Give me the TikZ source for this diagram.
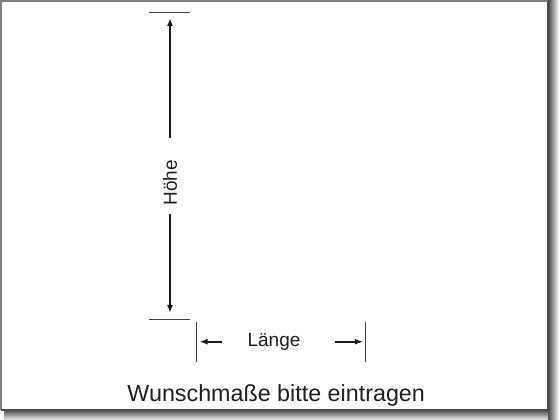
\documentclass[tikz,border=0pt]{standalone}
\usepackage{fontspec}
\setmainfont{Liberation Sans}
\usetikzlibrary{arrows.meta}
\begin{document}
\begin{tikzpicture}[x=1pt,y=1pt,
  tick/.style={draw=black!75, line width=0.9pt},
  dimarrow/.style={draw=black!90, line width=1.7pt, -{Latex[length=8pt,width=6pt]}},
  label/.style={font=\fontsize{19}{22}\selectfont, text=black!88, inner sep=0pt},
  caption/.style={font=\fontsize{23.3}{27}\selectfont, text=black!88, inner sep=0pt}]
\useasboundingbox (0,0) rectangle (560,420);
\fill[white] (0,0) rectangle (560,420);
% shadow
\shade[left color=black!72, middle color=black!55, right color=white] (548,0) rectangle (559,419);
\shade[top color=black!72, middle color=black!55, bottom color=white] (4,-1) rectangle (548,10.5);
% frame
\fill[white] (1,10) rectangle (548,419);
\draw[black!50, line width=1.2pt] (1,10) -- (1,419) -- (548,419);
\draw[black!70, line width=1.2pt] (548,419) -- (548,10) -- (1,10);
% Hoehe
\coordinate (ht1) at (149,408);
\coordinate (ht2) at (190,408);
\coordinate (hb1) at (149,100.7);
\coordinate (hb2) at (190,100.7);
\draw[tick] (ht1) -- (ht2);
\draw[tick] (hb1) -- (hb2);
\node[label, rotate=90] (hoehe) at (170,237) {Höhe};
\coordinate (hupend) at (170,282);
\coordinate (hupTip) at (170,402);
\coordinate (hdnstart) at (170,206.4);
\coordinate (hdnTip) at (170,107);
\draw[dimarrow] (hupend) -- (hupTip);
\draw[dimarrow] (hdnstart) -- (hdnTip);
% Laenge
\coordinate (lb1) at (196.7,98.3);
\coordinate (lb2) at (196.7,58.3);
\coordinate (rb1) at (365.7,98.3);
\coordinate (rb2) at (365.7,58.3);
\draw[tick] (lb1) -- (lb2);
\draw[tick] (rb1) -- (rb2);
\node[label, anchor=base] (laenge) at (274,73.3) {Länge};
\coordinate (lstart) at (222,78.3);
\coordinate (ltip) at (199.5,78.3);
\coordinate (rstart) at (335,78.3);
\coordinate (rtip) at (363,78.3);
\draw[dimarrow] (lstart) -- (ltip);
\draw[dimarrow] (rstart) -- (rtip);
% caption
\node[caption, anchor=base] (cap) at (276.2,18.3) {Wunschmaße bitte eintragen};
\end{tikzpicture}
\end{document}
